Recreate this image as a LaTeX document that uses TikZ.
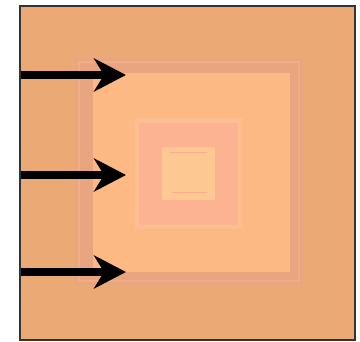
\documentclass[tikz,border=0pt]{standalone}
\usetikzlibrary{arrows.meta}
\definecolor{outerc}{HTML}{EBAA75}
\definecolor{bandc}{HTML}{E9A57F}
\definecolor{bandlt}{HTML}{F0AE85}
\definecolor{innerc}{HTML}{FDB984}
\definecolor{midc}{HTML}{FBB391}
\definecolor{midedge}{HTML}{FDBE90}
\definecolor{corec}{HTML}{FEC892}
\definecolor{coreline}{HTML}{F7B08E}
\tikzset{
  framebox/.style={draw=black!80, line width=1.4pt, fill=outerc},
  bigarrow/.style={line width=8.5pt, -{Stealth[length=32pt, width=33pt, inset=10pt]}, black}
}
\begin{document}
\begin{tikzpicture}[x=1pt,y=-1pt]
\useasboundingbox (0,0) rectangle (360,342);
\fill[white] (0,0) rectangle (360,342);
% outer square
\path[framebox] (20,6) rectangle (355,340);
% band region
\fill[bandc] (75,58) rectangle (303,285);
\draw[bandlt, line width=1.5pt] (79,62) rectangle (299,281);
\fill[innerc] (93,73) rectangle (290,272);
% middle square
\fill[midedge] (135,118) rectangle (242,229);
\fill[midc] (139,123) rectangle (238,225);
% core
\fill[corec] (162,147) rectangle (215,200);
\draw[coreline, line width=0.8pt] (170,152) -- (207,152);
\draw[coreline, line width=0.8pt] (172,192) -- (207,192);
% arrows
\coordinate (s1) at (20,75);  \coordinate (e1) at (126,75);
\coordinate (s2) at (20,175); \coordinate (e2) at (126,175);
\coordinate (s3) at (20,272); \coordinate (e3) at (126,272);
\draw[bigarrow] (s1) -- (e1);
\draw[bigarrow] (s2) -- (e2);
\draw[bigarrow] (s3) -- (e3);
% redraw border on top
\draw[black!80, line width=1.4pt] (20,6) rectangle (355,340);
\end{tikzpicture}
\end{document}
